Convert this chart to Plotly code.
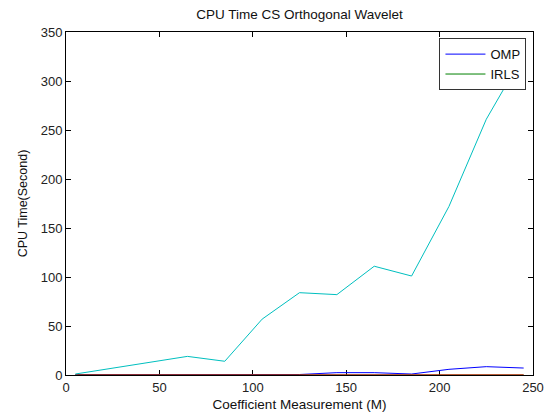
import plotly.graph_objects as go

m_values = [5, 25, 45, 65, 85, 105, 125, 145, 165, 185, 205, 225, 245]
omp_time = [0.3, 0.3, 0.3, 0.3, 0.4, 0.5, 0.5, 2.4, 2.4, 1.0, 5.8, 8.5, 7.1]
irls_time = [0.05, 0.05, 0.05, 0.05, 0.05, 0.05, 0.05, 0.05, 0.05, 0.05, 0.05, 0.05, 0.05]
red_time = [0, 0, 0, 0, 0, 0, 0, 0, 0, 0, 0, 0, 0]
cyan_time = [1, 7, 13, 19, 14, 57, 84, 82, 111, 101, 172, 261, 327]

x_ticks = [0, 50, 100, 150, 200, 250]
y_ticks = [0, 50, 100, 150, 200, 250, 300, 350]

FONT = "Liberation Sans, Arial"

fig = go.Figure()
fig.add_trace(go.Scatter(x=m_values, y=omp_time, mode="lines", name="OMP",
                         line=dict(color="rgb(0,0,255)", width=1)))
fig.add_trace(go.Scatter(x=m_values, y=irls_time, mode="lines", name="IRLS",
                         line=dict(color="rgb(0,128,0)", width=1)))
fig.add_trace(go.Scatter(x=m_values, y=red_time, mode="lines", name="red",
                         showlegend=False, line=dict(color="rgb(255,0,0)", width=1)))
fig.add_trace(go.Scatter(x=m_values, y=cyan_time, mode="lines", name="cyan",
                         showlegend=False, line=dict(color="rgb(0,191,191)", width=1)))

axis_common = dict(
    showgrid=False, zeroline=False, showline=True, linecolor="black", linewidth=1,
    mirror="ticks", ticks="inside", ticklen=5, tickcolor="black",
    automargin=False, layer="below traces",
    tickfont=dict(family=FONT, size=13, color="#222"),
)

fig.update_layout(
    width=547, height=413,
    margin=dict(l=66, r=14, t=32, b=38, autoexpand=False),
    paper_bgcolor="white", plot_bgcolor="white",
    title=dict(text="CPU Time CS Orthogonal Wavelet", x=0.5, xref="paper", xanchor="center",
               y=1 - 14 / 413, yanchor="middle", yref="container",
               font=dict(family=FONT, size=13.5, color="#111")),
    xaxis=dict(range=[0, 250], tickvals=x_ticks,
               title=dict(text="Coefficient Measurement (M)", standoff=5,
                          font=dict(family=FONT, size=13.5, color="#111")),
               **axis_common),
    yaxis=dict(range=[0, 350], tickvals=y_ticks,
               title=dict(text="CPU Time(Second)", standoff=10,
                          font=dict(family=FONT, size=12.5, color="#111")),
               **axis_common),
    legend=dict(x=0.986, y=0.982, xanchor="right", yanchor="top",
                bgcolor="white", bordercolor="#333", borderwidth=1,
                font=dict(family=FONT, size=13, color="#111"),
                tracegroupgap=0, itemwidth=40),
    showlegend=True,
)

fig.write_html("out.html", config={"displayModeBar": False},
               post_script="document.body.style.margin='0';document.body.style.overflow='hidden';")
